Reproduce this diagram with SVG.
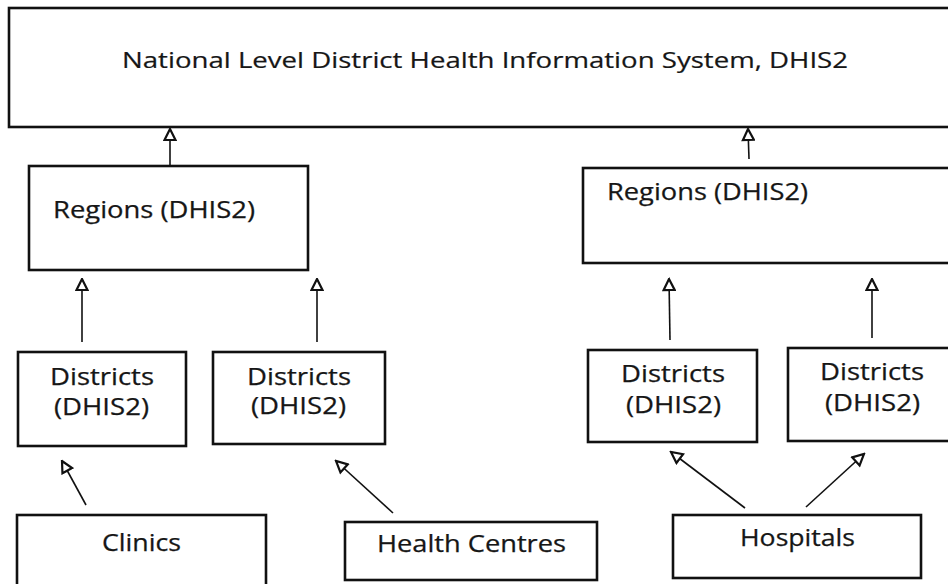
<svg xmlns="http://www.w3.org/2000/svg" width="948" height="584" viewBox="0 0 948 584">
  <style>
    .box { fill: #ffffff; stroke: #111111; stroke-width: 2.6; }
    .lbl { font-family: "Open Sans", "Liberation Sans", sans-serif; font-size: 23px; fill: #161616; stroke: #161616; stroke-width: 0.25; }
    .title { font-family: "Open Sans", "Liberation Sans", sans-serif; font-size: 21px; fill: #161616; stroke: #161616; stroke-width: 0.2; }
    .link { stroke: #111111; stroke-width: 1.6; fill: none; marker-end: url(#open-tri); }
  </style>
  <defs>
    <marker id="open-tri" markerUnits="userSpaceOnUse" viewBox="0 0 14 14" refX="12.5" refY="7" markerWidth="14" markerHeight="14" orient="auto">
      <path d="M1.5,1.5 L12.5,7 L1.5,12.5 Z" fill="#ffffff" stroke="#111111" stroke-width="2.2" stroke-linejoin="miter"/>
    </marker>
  </defs>
  <rect width="948" height="584" fill="#ffffff"/>

  <g id="national">
    <rect class="box" x="9" y="8" width="945" height="119"/>
    <text class="title" x="122" y="68" textLength="726" lengthAdjust="spacingAndGlyphs">National Level District Health Information System, DHIS2</text>
  </g>

  <g id="regions-left">
    <rect class="box" x="29" y="166" width="279" height="104"/>
    <text class="lbl" x="53" y="218" textLength="202" lengthAdjust="spacingAndGlyphs">Regions (DHIS2)</text>
  </g>
  <g id="regions-right">
    <rect class="box" x="583" y="168" width="370" height="95"/>
    <text class="lbl" x="607" y="200" textLength="201" lengthAdjust="spacingAndGlyphs">Regions (DHIS2)</text>
  </g>

  <g id="districts-1">
    <rect class="box" x="18" y="352" width="168" height="94"/>
    <text class="lbl" x="50" y="385" textLength="104" lengthAdjust="spacingAndGlyphs">Districts</text>
    <text class="lbl" x="54" y="415" textLength="95" lengthAdjust="spacingAndGlyphs">(DHIS2)</text>
  </g>
  <g id="districts-2">
    <rect class="box" x="213" y="352" width="172" height="92"/>
    <text class="lbl" x="247" y="385" textLength="104" lengthAdjust="spacingAndGlyphs">Districts</text>
    <text class="lbl" x="251" y="414" textLength="95" lengthAdjust="spacingAndGlyphs">(DHIS2)</text>
  </g>
  <g id="districts-3">
    <rect class="box" x="588" y="350" width="169" height="92"/>
    <text class="lbl" x="621" y="382" textLength="104" lengthAdjust="spacingAndGlyphs">Districts</text>
    <text class="lbl" x="626" y="413" textLength="95" lengthAdjust="spacingAndGlyphs">(DHIS2)</text>
  </g>
  <g id="districts-4">
    <rect class="box" x="788" y="348" width="170" height="93"/>
    <text class="lbl" x="820" y="380" textLength="104" lengthAdjust="spacingAndGlyphs">Districts</text>
    <text class="lbl" x="825" y="411" textLength="95" lengthAdjust="spacingAndGlyphs">(DHIS2)</text>
  </g>

  <g id="clinics">
    <rect class="box" x="17" y="515" width="249" height="80"/>
    <text class="lbl" x="102" y="551" textLength="79" lengthAdjust="spacingAndGlyphs">Clinics</text>
  </g>
  <g id="health-centres">
    <rect class="box" x="345" y="522" width="252" height="58"/>
    <text class="lbl" x="377" y="552" textLength="189" lengthAdjust="spacingAndGlyphs">Health Centres</text>
  </g>
  <g id="hospitals">
    <rect class="box" x="673" y="515" width="248" height="63"/>
    <text class="lbl" x="740" y="546" textLength="115" lengthAdjust="spacingAndGlyphs">Hospitals</text>
  </g>

  <g id="connectors">
    <line class="link" x1="170" y1="166" x2="170" y2="129"/>
    <line class="link" x1="749" y1="159" x2="748" y2="129"/>
    <line class="link" x1="82" y1="342" x2="82" y2="279"/>
    <line class="link" x1="317" y1="342" x2="317" y2="279"/>
    <line class="link" x1="670" y1="340" x2="669" y2="279"/>
    <line class="link" x1="872" y1="338" x2="872" y2="279"/>
    <line class="link" x1="86" y1="505" x2="62" y2="461"/>
    <line class="link" x1="393" y1="513" x2="336" y2="461"/>
    <line class="link" x1="745" y1="508" x2="671" y2="452"/>
    <line class="link" x1="806" y1="507" x2="864" y2="454"/>
  </g>
</svg>
